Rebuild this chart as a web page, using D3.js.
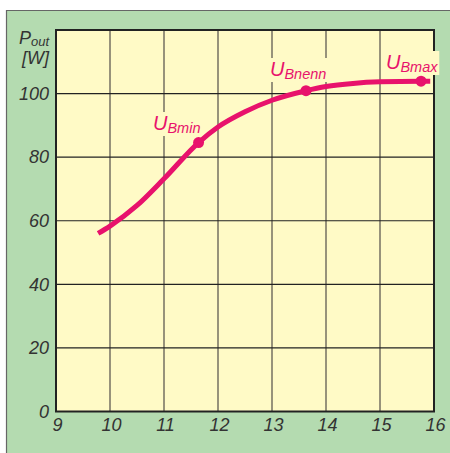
<!DOCTYPE html>
<html><head><meta charset="utf-8">
<script src="https://cdn.jsdelivr.net/npm/d3@7"></script>
<style>html,body{margin:0;padding:0;background:#fff;}svg{display:block;}</style>
</head><body>
<script>
// Data
const xTicks = [9, 10, 11, 12, 13, 14, 15, 16];
const yTicks = [0, 20, 40, 60, 80, 100];
const curveX = [9.78, 10.0, 10.5, 11.0, 11.64, 12.0, 12.5, 13.0, 13.63, 14.0, 14.5, 15.0, 15.76, 15.93];
const curveY = [56.0, 58.3, 64.8, 73.2, 84.6, 89.5, 94.3, 97.9, 100.9, 102.2, 103.2, 103.7, 103.9, 103.9];
const pointNames = ["Bmin", "Bnenn", "Bmax"];
const pointX = [11.64, 13.63, 15.76];
const pointY = [84.6, 100.9, 103.9];

const W = 450, H = 453;
const svg = d3.select("body").append("svg").attr("width", W).attr("height", H);

// green panel
svg.append("rect").attr("x", 7).attr("y", 10.5).attr("width", W - 7).attr("height", H - 10.5)
  .attr("fill", "#b4dbb0");
svg.append("line").attr("x1", 6.5).attr("x2", 6.5).attr("y1", 10).attr("y2", H).attr("stroke", "#666").attr("stroke-width", 1.2);
svg.append("line").attr("x1", 6).attr("x2", W).attr("y1", 10.5).attr("y2", 10.5).attr("stroke", "#666").attr("stroke-width", 1.2);

const x = d3.scaleLinear().domain([9, 16]).range([56, 434]);
const y = d3.scaleLinear().domain([0, 120]).range([411.5, 30]);

// plot bg
svg.append("rect").attr("x", x(9)).attr("y", y(120)).attr("width", x(16) - x(9)).attr("height", y(0) - y(120))
  .attr("fill", "#fffac6");

// grid
const g = svg.append("g");
g.selectAll(".vg").data(xTicks.slice(1, -1)).join("line")
  .attr("x1", d => x(d)).attr("x2", d => x(d)).attr("y1", y(120)).attr("y2", y(0))
  .attr("stroke", "#7d7868").attr("stroke-width", 1.6);
g.selectAll(".hg").data(yTicks.slice(1)).join("line")
  .attr("x1", x(9)).attr("x2", x(16)).attr("y1", d => y(d)).attr("y2", d => y(d))
  .attr("stroke", "#222").attr("stroke-width", 1.1);

// frame
svg.append("rect").attr("x", x(9)).attr("y", y(120)).attr("width", x(16) - x(9)).attr("height", y(0) - y(120))
  .attr("fill", "none").attr("stroke", "#222").attr("stroke-width", 2);

const fontFam = "'Liberation Sans Narrow', 'Liberation Sans', Arial, sans-serif";
const yAxis = svg.append("g").attr("transform", `translate(${x(9)},0)`)
  .call(d3.axisLeft(y).tickValues(yTicks).tickFormat(d3.format("d")).tickSize(0).tickPadding(7));
yAxis.select(".domain").remove();
yAxis.selectAll("text").attr("font-family", fontFam).attr("font-style", "italic")
  .attr("font-size", 18).attr("fill", "#333");

const xAxis = svg.append("g").attr("transform", `translate(0,${y(0)})`)
  .call(d3.axisBottom(x).tickValues(xTicks).tickFormat(d3.format("d")).tickSize(0).tickPadding(7));
xAxis.select(".domain").remove();
xAxis.selectAll("text").attr("font-family", fontFam).attr("font-style", "italic")
  .attr("font-size", 18).attr("fill", "#333").attr("dx", 1);

// axis title
const t1 = svg.append("text").attr("x", 49).attr("y", 44).attr("text-anchor", "end")
  .attr("font-family", fontFam).attr("font-style", "italic").attr("fill", "#333").attr("font-size", 18);
t1.append("tspan").text("P");
t1.append("tspan").attr("font-size", 13).attr("dy", 2).text("out");
svg.append("text").attr("x", 49).attr("y", 64).attr("text-anchor", "end")
  .attr("font-family", fontFam).attr("font-style", "italic").attr("fill", "#333").attr("font-size", 18).text("[W]");

// curve
const pink = "#e8126c";
const line = d3.line().x(d => x(d[0])).y(d => y(d[1])).curve(d3.curveMonotoneX);
svg.append("path").datum(d3.zip(curveX, curveY)).attr("d", line)
  .attr("fill", "none").attr("stroke", pink).attr("stroke-width", 5).attr("stroke-linecap", "butt");

svg.selectAll(".pt").data(d3.zip(pointX, pointY)).join("circle")
  .attr("cx", d => x(d[0])).attr("cy", d => y(d[1])).attr("r", 5.5).attr("fill", pink);

// labels with yellow backgrounds
const labelPos = [[153, 130], [270, 76], [386, 69]];
pointNames.forEach((n, i) => {
  const lg = svg.append("g");
  const t = lg.append("text").attr("x", labelPos[i][0]).attr("y", labelPos[i][1])
    .attr("font-family", fontFam).attr("font-style", "italic").attr("fill", pink).attr("font-size", 20);
  t.append("tspan").text("U");
  t.append("tspan").attr("font-size", 14.5).attr("dy", 3).text(n);
  const bb = t.node().getBBox();
  lg.insert("rect", "text").attr("x", bb.x - 1).attr("y", bb.y).attr("width", bb.width + 2).attr("height", bb.height)
    .attr("fill", "#fffac6");
});
</script>
</body></html>
